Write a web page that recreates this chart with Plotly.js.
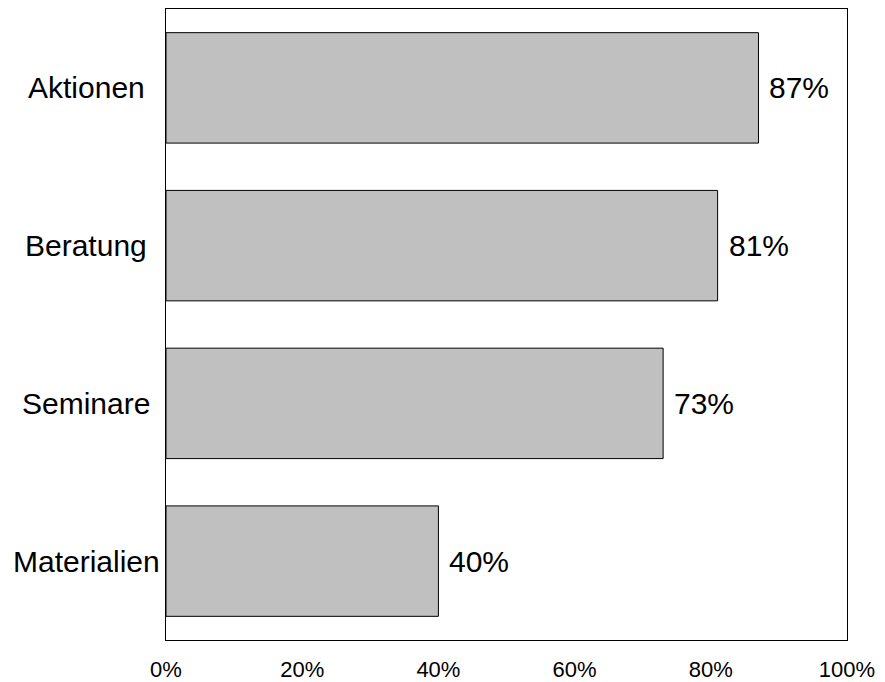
<!DOCTYPE html>
<html>
<head>
<meta charset="utf-8">
<script src="https://cdn.plot.ly/plotly-3.0.1.min.js"></script>
<style>
  html, body { margin: 0; padding: 0; background: #fff; }
  #chart { width: 885px; height: 682px; }
</style>
</head>
<body>
<div id="chart"></div>
<script>
// Share of respondents per offering (percent)
const categories = ['Aktionen', 'Beratung', 'Seminare', 'Materialien'];
const values = [87, 81, 73, 40];
const tickValues = [0, 20, 40, 60, 80, 100];
const tickLabels = ['0%', '20%', '40%', '60%', '80%', '100%'];

const FONT = 'Liberation Sans, Arial, sans-serif';

const trace = {
  type: 'bar',
  orientation: 'h',
  y: categories,
  x: values,
  width: 0.7,
  marker: { color: '#c0c0c0', line: { color: '#000', width: 1 } },
  hoverinfo: 'none'
};

// Value labels to the right of each bar
const valueNotes = categories.map((c, i) => ({
  x: values[i], y: c, xref: 'x', yref: 'y',
  text: values[i] + '%', showarrow: false,
  xanchor: 'left', xshift: 9,
  font: { family: FONT, size: 30, color: '#000' }
}));

// Category names, centred in the left margin
const catNotes = categories.map(c => ({
  x: -80 / 681, y: c, xref: 'paper', yref: 'y',
  text: c, showarrow: false, xanchor: 'center',
  font: { family: FONT, size: 30, color: '#000' }
}));

const layout = {
  width: 885, height: 682,
  margin: { l: 166, r: 38, t: 9, b: 42, pad: 0 },
  paper_bgcolor: '#fff', plot_bgcolor: '#fff',
  showlegend: false,
  font: { family: FONT, color: '#000' },
  xaxis: {
    range: [0, 100],
    tickvals: tickValues, ticktext: tickLabels,
    showgrid: false, zeroline: false,
    showline: true, linecolor: '#000', linewidth: 1, mirror: true,
    ticks: '', ticklabelstandoff: 10,
    tickfont: { family: FONT, size: 22, color: '#000' },
    fixedrange: true
  },
  yaxis: {
    categoryorder: 'array', categoryarray: categories,
    autorange: 'reversed',
    range: [3.5, -0.5],
    showgrid: false, zeroline: false,
    showline: true, linecolor: '#000', linewidth: 1, mirror: true,
    showticklabels: false, ticks: '',
    fixedrange: true
  },
  annotations: valueNotes.concat(catNotes)
};

Plotly.newPlot('chart', [trace], layout, { displayModeBar: false, staticPlot: true });
</script>
</body>
</html>
